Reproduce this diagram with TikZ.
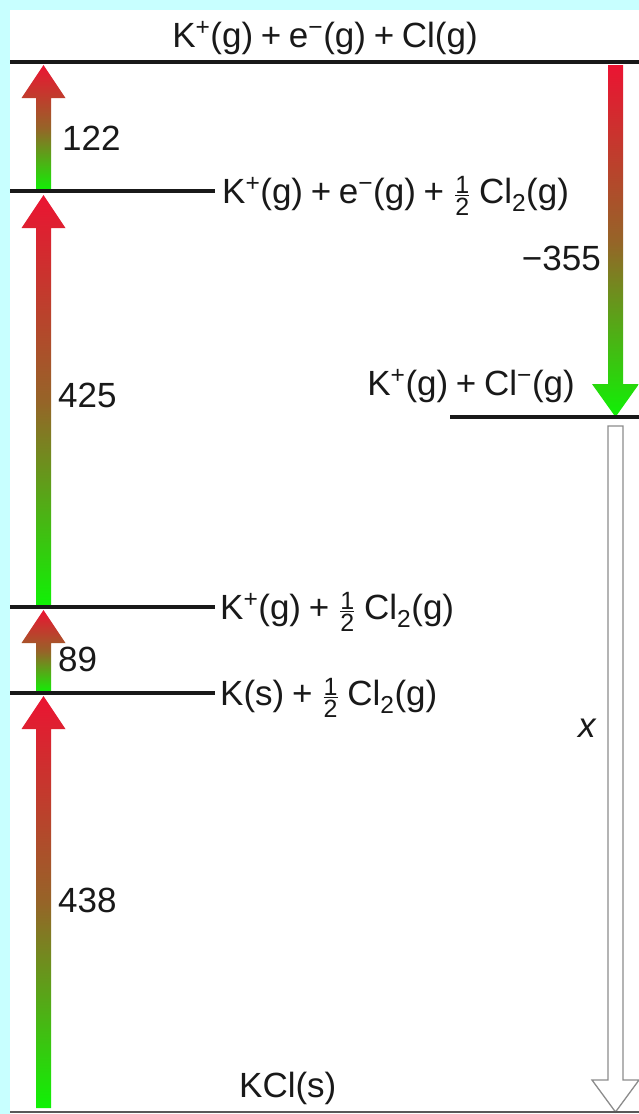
\documentclass[tikz,border=0pt]{standalone}
\usepackage{fontspec}
\setmainfont{Liberation Sans}
\usetikzlibrary{calc}
\definecolor{bgblue}{RGB}{200,255,255}
\definecolor{ared}{RGB}{235,20,50}
\definecolor{agreen}{RGB}{15,242,5}
\definecolor{abrown}{RGB}{150,100,40}
\definecolor{txt}{RGB}{25,25,25}
\definecolor{hollowgray}{RGB}{140,140,140}
\newcommand\sps[1]{\raisebox{2pt}{\textsuperscript{#1}}}
\newcommand\sbs[1]{\textsubscript{#1}}
\newcommand\pl{\hspace{0.22em}+\hspace{0.22em}}
\newcommand\hlf{\hspace{0.1em}\raisebox{-12pt}{\vbox{\fontsize{25}{25}\selectfont\offinterlineskip\halign{\hfil##\hfil\cr 1\cr\noalign{\kern1.5pt\hrule height 1pt\kern1.5pt}2\cr}}}\hspace{0.28em}}
\newcommand\gradup[2]{\shade[top color=ared, bottom color=agreen, middle color=abrown]
  ($(#1)+(-7.5,0)$) -- ($(#2)+(-7.5,33)$) -- ($(#2)+(-22,33)$) -- (#2) --
  ($(#2)+(22,33)$) -- ($(#2)+(7.5,33)$) -- ($(#1)+(7.5,0)$) -- cycle;}
\newcommand\graddown[2]{\shade[top color=ared, bottom color=agreen, middle color=abrown]
  ($(#1)+(-7.5,0)$) -- ($(#2)+(-7.5,-33)$) -- ($(#2)+(-23.5,-33)$) -- (#2) --
  ($(#2)+(23.5,-33)$) -- ($(#2)+(7.5,-33)$) -- ($(#1)+(7.5,0)$) -- cycle;}
\begin{document}
\begin{tikzpicture}[x=1pt,y=-1pt,
  lbl/.style={inner sep=0pt, text=txt, font=\fontsize{35}{40}\selectfont},
  levelline/.style={line width=3.5pt, draw=black!90},
  baseline/.style={line width=1.3pt, draw=black!65},
  hollow/.style={draw=hollowgray, line width=1.3pt, fill=white}]
\fill[bgblue] (0,0) rectangle (639,1114);
\fill[white] (10,10) rectangle (639,1114);
\useasboundingbox (0,0) rectangle (639,1114);
% level end points
\coordinate (L1a) at (10,62);   \coordinate (L1b) at (639,62);
\coordinate (L2a) at (10,191);  \coordinate (L2b) at (215,191);
\coordinate (L3a) at (10,607);  \coordinate (L3b) at (215,607);
\coordinate (L4a) at (10,693);  \coordinate (L4b) at (215,693);
\coordinate (L5a) at (450,417); \coordinate (L5b) at (639,417);
\coordinate (L0a) at (10,1112); \coordinate (L0b) at (639,1112);
% arrow end points
\coordinate (a1s) at (43.5,191);  \coordinate (a1t) at (43.5,65);
\coordinate (a2s) at (43.5,607);  \coordinate (a2t) at (43.5,195);
\coordinate (a3s) at (43.5,693);  \coordinate (a3t) at (43.5,610);
\coordinate (a4s) at (43.5,1108); \coordinate (a4t) at (43.5,696);
\coordinate (r1s) at (615.5,65);  \coordinate (r1t) at (615.5,417);
\coordinate (h1s) at (615.5,426); \coordinate (h1t) at (615.5,1112);
% arrows
\gradup{a1s}{a1t}
\gradup{a2s}{a2t}
\gradup{a3s}{a3t}
\gradup{a4s}{a4t}
\graddown{r1s}{r1t}
\draw[hollow] ($(h1s)+(-7.5,0)$) -- ($(h1t)+(-7.5,-32)$) -- ($(h1t)+(-23.5,-32)$) -- (h1t)
  -- ($(h1t)+(23.5,-32)$) -- ($(h1t)+(7.5,-32)$) -- ($(h1s)+(7.5,0)$) -- cycle;
% levels
\draw[levelline] (L1a) -- (L1b);
\draw[levelline] (L2a) -- (L2b);
\draw[levelline] (L3a) -- (L3b);
\draw[levelline] (L4a) -- (L4b);
\draw[levelline] (L5a) -- (L5b);
\draw[baseline] (L0a) -- (L0b);
% labels
\node[lbl, anchor=base] (t1) at (325,47) {K\sps{+}(g)\pl e\sps{−}(g)\pl Cl(g)};
\node[lbl, anchor=base west] (t2) at (222,203) {K\sps{+}(g)\pl e\sps{−}(g)\pl\hlf Cl\sbs{2}(g)};
\node[lbl, anchor=base west] (t3) at (220,619) {K\sps{+}(g)\pl\hlf Cl\sbs{2}(g)};
\node[lbl, anchor=base west] (t4) at (220,705) {K(s)\pl\hlf Cl\sbs{2}(g)};
\node[lbl, anchor=base east] (t5) at (575,395) {K\sps{+}(g)\pl Cl\sps{−}(g)};
\node[lbl, anchor=base west] (t0) at (239,1097) {KCl(s)};
\node[lbl, anchor=base west] (e1) at (62,150) {122};
\node[lbl, anchor=base west] (e2) at (58,407) {425};
\node[lbl, anchor=base west] (e3) at (58,671) {89};
\node[lbl, anchor=base west] (e4) at (58,912) {438};
\node[lbl, anchor=base east] (e5) at (601,270) {−355};
\node[lbl, anchor=base west] (ex) at (578,737) {\itshape x};
\end{tikzpicture}
\end{document}
